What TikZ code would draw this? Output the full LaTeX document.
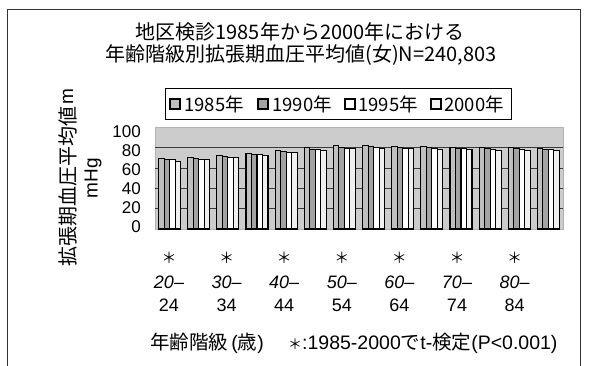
\documentclass[tikz,border=0pt]{standalone}
\usepackage{fontspec}
\setmainfont{Noto Sans CJK JP}
\newfontfamily\lat{Liberation Sans}
\begin{document}
\begin{tikzpicture}[x=1pt,y=-1pt,
  frameline/.style={draw=gray!40!black, line width=0.8pt},
  titletext/.style={font=\fontsize{20}{23}\selectfont, inner sep=0pt},
  legtext/.style={font=\fontsize{18.5}{21}\selectfont, anchor=west, inner sep=0pt},
  legsq/.style={draw=black, line width=1.2pt},
  ticklab/.style={font=\lat\fontsize{17}{19}\selectfont, anchor=east, inner sep=0pt},
  catlab/.style={font=\lat\fontsize{18}{20}\selectfont, inner sep=0pt},
  axlab/.style={font=\fontsize{20}{23}\selectfont, rotate=90, inner sep=0pt},
  axunit/.style={font=\lat\fontsize{19}{21}\selectfont, rotate=90, inner sep=0pt},
  captext/.style={font=\fontsize{19.5}{23}\selectfont, anchor=west, inner sep=0pt},
  barA/.style={draw=black, line width=1.1pt, fill=gray!50},
  barB/.style={draw=black, line width=1.1pt, fill=gray!72},
  barC/.style={draw=black, line width=1.1pt, fill=white},
  barD/.style={draw=black, line width=1.1pt, fill=gray!12},
  gridl/.style={draw=gray!45!black, line width=0.6pt}
]
\useasboundingbox (0,0) rectangle (592,365);
\fill[white] (0,0) rectangle (592,365);
% outer frame
\draw[frameline] (7,366) -- (7,9) -- (580,9) -- (580,366);
% title
\node[titletext] (t1) at (300,32) {地区検診1985年から2000年における};
\node[titletext] (t2) at (301,55) {年齢階級別拡張期血圧平均値(女)N=240,803};
% legend
\node[draw=black, line width=0.7pt, minimum width=346pt, minimum height=31pt, inner sep=0pt] (leg) at (338,103.5) {};
\draw[legsq, fill=gray!50] (170,99) rectangle (180,109);
\node[legtext] (l1) at (184,104) {1985年};
\draw[legsq, fill=gray!72] (258,99) rectangle (268,109);
\node[legtext] (l2) at (272,104) {1990年};
\draw[legsq, fill=white] (345,99) rectangle (355,109);
\node[legtext] (l3) at (358,104) {1995年};
\draw[legsq, fill=gray!12] (431,99) rectangle (441,109);
\node[legtext] (l4) at (444,104) {2000年};
% plot area
\fill[gray!40] (155,127) rectangle (563,229);
\draw[draw=gray!60, line width=0.5pt] (155,127) rectangle (563,229);
\foreach \v in {20,40,60,80} {
  \draw[gridl] (155,{229-1.02*\v}) -- (563,{229-1.02*\v});
}
% bars
\foreach \a/\b/\c/\d [count=\i from 0] in {69/68/68/66,70/69/68/68,72/71/70/70,74/73/73/72,77/76/75/75,80/78/78/77,82/80/79/79,82/81/80/79,81/80/79/79,81/80/79/78,80/79/79/78,80/79/78/77,80/79/78/77,79/78/78/77} {
  \pgfmathsetmacro{\gx}{155+\i*29.14+3.6}
  \draw[barA] (\gx,229) rectangle ({\gx+5.5},{229-1.02*\a});
  \draw[barB] ({\gx+5.5},229) rectangle ({\gx+11},{229-1.02*\b});
  \draw[barC] ({\gx+11},229) rectangle ({\gx+16.5},{229-1.02*\c});
  \draw[barD] ({\gx+16.5},229) rectangle ({\gx+22},{229-1.02*\d});
}
% y tick labels
\foreach \v in {0,20,40,60,80,100} {
  \node[ticklab] at (141,{227-0.95*\v}) {\v};
}
% y axis label
\node[axlab] (ya) at (68,186) {拡張期血圧平均値};
\node[axunit] (ym) at (68,97) {m};
\node[axunit] (yb) at (93,178) {mHg};
% category labels
\foreach \lo/\hi [count=\k from 0] in {20/24,30/34,40/44,50/54,60/64,70/74,80/84} {
  \pgfmathsetmacro{\cx}{169+57.6*\k}
  \node[font=\fontsize{15}{17}\selectfont, inner sep=0pt] at (\cx,258) {＊};
  \node[catlab, font=\lat\itshape\fontsize{18}{20}\selectfont] at (\cx,282) {\lo–};
  \node[catlab] at (\cx,305) {\hi};
}
% caption
\node[captext] (c1) at (150,343) {年齢階級{\lat\,(}歳{\lat)}};
\node[captext] (c2) at (288,343) {{\fontsize{14}{16}\selectfont ＊}{\lat :1985-2000}で{\lat t-}検定{\lat (P<0.001)}};
\end{tikzpicture}
\end{document}
